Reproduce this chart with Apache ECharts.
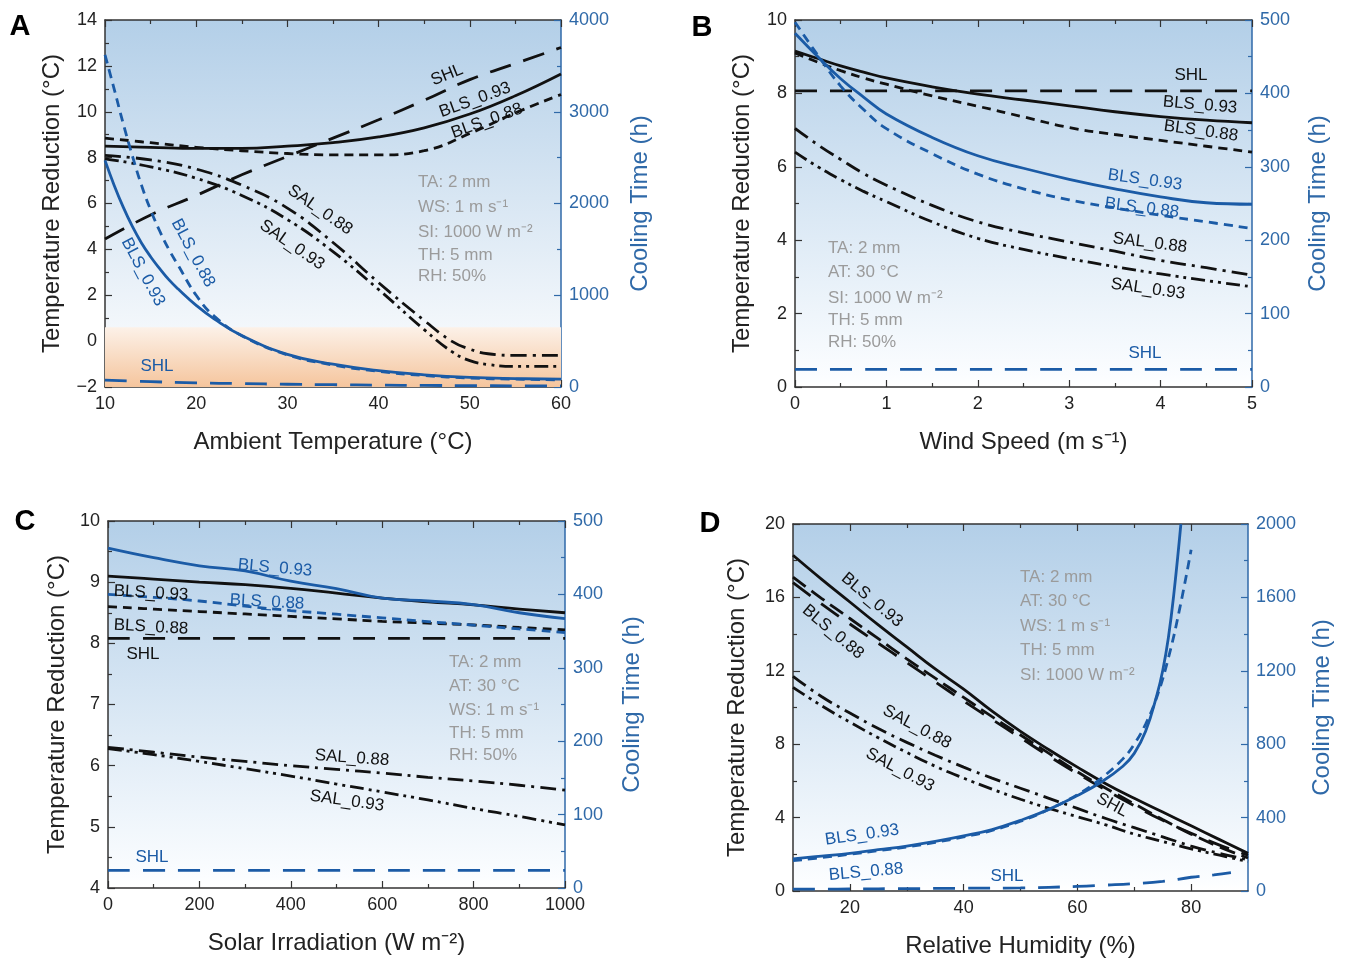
<!DOCTYPE html>
<html><head><meta charset="utf-8">
<script src="https://cdn.jsdelivr.net/npm/echarts@6/dist/echarts.min.js"></script>
<style>html,body{margin:0;padding:0;background:#fff}#c{width:1346px;height:961px}</style>
</head><body><div id="c"></div>
<script>
// ---------- Panel A: Ambient Temperature ----------
const xA = [10,15,20,25,30,35,40,45,50,55,60];
const xA_sal = [10,15,20,25,30,35,40,45,48,50,52,55,60];
const xA_blue = [10,11,12,13,14,15,16,17,18,20,22,25,30,35,40,45,50,55,60];
const A_BLS93 = [8.5,8.45,8.4,8.4,8.5,8.65,8.9,9.3,9.9,10.7,11.65];
const A_BLS88 = [8.85,8.65,8.45,8.3,8.18,8.12,8.12,8.3,9.05,9.95,10.75];
const A_SHL = [4.45,5.5,6.35,7.25,8.05,8.85,9.65,10.5,11.4,12.1,12.8];
const A_SAL88 = [8.1,7.9,7.5,6.8,5.8,4.3,2.55,0.9,0.0,-0.35,-0.55,-0.62,-0.62];
const A_SAL93 = [7.95,7.6,7.1,6.35,5.3,3.9,2.25,0.5,-0.45,-0.85,-1.02,-1.1,-1.1];
const A_BLS88_T = [3620,3250,2870,2520,2200,1930,1700,1500,1330,1000,770,560,350,240,170,125,98,85,78];
const A_BLS93_T = [2470,2200,1960,1750,1570,1420,1290,1170,1070,890,740,560,355,248,178,133,105,92,85];
const A_SHL_T = [75,58,45,37,30,25,20,17,15,13,12];

// ---------- Panel B: Wind Speed ----------
const xB = [0,0.25,0.5,0.75,1,1.5,2,2.5,3,3.5,4,4.5,5];
const B_BLS93 = [9.15,8.95,8.75,8.58,8.42,8.18,7.98,7.82,7.66,7.5,7.37,7.27,7.2];
const B_BLS88 = [9.1,8.85,8.62,8.42,8.25,7.93,7.65,7.36,7.07,6.88,6.72,6.56,6.4];
const B_SHL = [8.07,8.07,8.07,8.07,8.07,8.07,8.07,8.07,8.07,8.07,8.07,8.07,8.07];
const B_SAL88 = [7.05,6.6,6.2,5.82,5.5,4.95,4.5,4.2,3.95,3.7,3.45,3.25,3.05];
const B_SAL93 = [6.4,6.0,5.65,5.33,5.05,4.5,4.05,3.75,3.5,3.28,3.08,2.9,2.73];
const B_BLS93_T = [482,450,420,395,372,340,315,298,283,270,259,251,249];
const B_BLS88_T = [497,452,410,378,352,318,290,270,255,244,234,225,216];
const B_SHL_T = [24,24,24,24,24,24,24,24,24,24,24,24,24];

// ---------- Panel C: Solar Irradiation ----------
const xC = [0,100,200,300,400,500,600,700,800,900,1000];
const C_BLS93 = [9.1,9.05,9.0,8.96,8.9,8.82,8.74,8.68,8.63,8.56,8.5];
const C_BLS88 = [8.6,8.56,8.52,8.48,8.44,8.4,8.36,8.33,8.3,8.26,8.22];
const C_SHL = [8.08,8.08,8.08,8.08,8.08,8.08,8.08,8.08,8.08,8.08,8.08];
const C_SAL88 = [6.3,6.22,6.14,6.07,6.0,5.94,5.88,5.81,5.75,5.68,5.6];
const C_SAL93 = [6.28,6.18,6.07,5.95,5.83,5.7,5.57,5.44,5.3,5.17,5.03];
const C_BLS93_T = [463,450,439,432,418,408,395,391,386,375,367];
const C_BLS88_T = [400,396,391,384,378,373,368,363,358,353,348];
const C_SHL_T = [24,24,24,24,24,24,24,24,24,24,24];

// ---------- Panel D: Relative Humidity ----------
const xD = [10,15,20,25,30,35,40,45,50,55,60,65,70,75,80,85,90];
const D_BLS93 = [18.3,17.0,15.75,14.5,13.3,12.1,11.0,9.8,8.7,7.7,6.75,5.85,5.05,4.3,3.55,2.8,2.05];
const D_BLS88 = [17.1,15.95,14.85,13.75,12.65,11.6,10.55,9.5,8.5,7.5,6.5,5.6,4.75,3.9,3.1,2.4,1.8];
const D_SHL = [16.8,15.65,14.55,13.5,12.45,11.4,10.35,9.35,8.35,7.35,6.4,5.5,4.65,3.85,3.15,2.5,1.95];
const D_SAL88 = [11.7,10.6,9.7,8.85,8.1,7.4,6.75,6.15,5.6,5.05,4.5,3.95,3.45,2.95,2.45,2.05,1.7];
const D_SAL93 = [11.1,10.1,9.2,8.35,7.55,6.8,6.15,5.55,5.0,4.5,4.05,3.6,3.1,2.7,2.3,1.95,1.6];
const xD_b93 = [10,15,20,25,30,35,40,45,50,55,60,64,68,70,72,74,75,76,77,78.2];
const D_BLS93_T = [175,190,205,225,245,270,300,335,385,445,520,590,680,750,870,1070,1200,1380,1630,2000];
const xD_b88 = [10,15,20,25,30,35,40,45,50,55,60,64,68,70,72,74,76,78,80];
const D_BLS88_T = [165,182,200,220,240,265,295,330,380,445,525,610,720,800,910,1060,1270,1540,1860];
const xD_shl = [10,20,30,40,50,60,65,70,75,80,84,87];
const D_SHL_T = [10,11,13,15,17,25,32,40,52,75,88,100];

// ---------- styling ----------
const FONT = '"Liberation Sans", Arial, Helvetica, sans-serif';
const BLACK = '#111111';
const BLUE = '#1b5ba6';
const AXBLUE = '#2f69a8';
const DASH = {
  solid: 'solid',
  short: [9, 6],
  long: [22, 13],
  dashdot: [16, 6, 3, 6],
  dashdotdot: [14, 5, 3, 5, 3, 5]
};

const chart = echarts.init(document.getElementById('c'), null, {renderer: 'canvas'});

function bgGrad(stopEnd) {
  return new echarts.graphic.LinearGradient(0, 0, 0, 1, [
    {offset: 0, color: '#b3cfe8'},
    {offset: stopEnd, color: '#fbfdff'},
    {offset: 1, color: '#ffffff'}
  ]);
}

const grids = [
  {left: 105, top: 20, width: 456, height: 367, show: true, borderWidth: 0, backgroundColor: new echarts.graphic.LinearGradient(0,0,0,1,[{offset:0,color:'#b3cfe8'},{offset:0.84,color:'#f3f7fb'},{offset:1,color:'#ffffff'}])},
  {left: 795, top: 20, width: 457, height: 367, show: true, borderWidth: 0, backgroundColor: bgGrad(0.97)},
  {left: 108, top: 521, width: 457, height: 367, show: true, borderWidth: 0, backgroundColor: bgGrad(0.97)},
  {left: 793, top: 524, width: 455, height: 367, show: true, borderWidth: 0, backgroundColor: bgGrad(0.97)}
];

const NAMESIZE = 24;
const lblStyle = {fontSize: 18, color: '#222', fontFamily: FONT, formatter: v => String(v).replace('-', '\u2212')};
function xAxes(g, min, max, interval, name, custom) {
  const common = {
    type: 'value', gridIndex: g, min, max, interval,
    axisLine: {show: true, onZero: false, lineStyle: {color: '#333', width: 1.5}},
    axisTick: {show: true, inside: true, length: 7, lineStyle: {color: '#333', width: 1.2}},
    minorTick: {show: true, splitNumber: 2, length: 4, lineStyle: {color: '#333', width: 1.2}},
    splitLine: {show: false}
  };
  const bottom = Object.assign({}, common, {
    position: 'bottom', name, nameLocation: 'middle', nameGap: 43,
    nameTextStyle: {fontSize: NAMESIZE, color: '#222', fontFamily: FONT},
    axisLabel: Object.assign({margin: 8}, lblStyle, custom ? {customValues: custom} : {})
  });
  const top = Object.assign({}, common, {position: 'top', axisLabel: {show: false}});
  if (custom) {
    bottom.axisTick = Object.assign({}, common.axisTick, {customValues: custom});
    top.axisTick = Object.assign({}, common.axisTick, {customValues: custom});
    bottom.minorTick = {show: false};
    top.minorTick = {show: false};
  }
  return [bottom, top];
}
function yAxes(g, lmin, lmax, lint, rmin, rmax, rint, lgap, rgap) {
  const left = {
    type: 'value', gridIndex: g, position: 'left', min: lmin, max: lmax, interval: lint,
    name: 'Temperature Reduction (°C)', nameLocation: 'middle', nameGap: lgap,
    nameTextStyle: {fontSize: NAMESIZE, color: '#222', fontFamily: FONT},
    axisLine: {show: true, onZero: false, lineStyle: {color: '#333', width: 1.5}},
    axisTick: {show: true, inside: true, length: 7, lineStyle: {color: '#333', width: 1.2}},
    minorTick: {show: true, splitNumber: 2, length: 4, lineStyle: {color: '#333', width: 1.2}},
    axisLabel: Object.assign({margin: 8}, lblStyle),
    splitLine: {show: false}
  };
  const right = {
    type: 'value', gridIndex: g, position: 'right', min: rmin, max: rmax, interval: rint,
    name: 'Cooling Time (h)', nameLocation: 'middle', nameGap: rgap,
    nameTextStyle: {fontSize: NAMESIZE, color: AXBLUE, fontFamily: FONT},
    axisLine: {show: true, onZero: false, lineStyle: {color: AXBLUE, width: 1.5}},
    axisTick: {show: true, inside: true, length: 7, lineStyle: {color: AXBLUE, width: 1.2}},
    minorTick: {show: true, splitNumber: 2, length: 4, lineStyle: {color: AXBLUE, width: 1.2}},
    axisLabel: {margin: 8, fontSize: 18, color: AXBLUE, fontFamily: FONT, formatter: v => String(v)},
    splitLine: {show: false}
  };
  return [left, right];
}

const xAxisList = [].concat(
  xAxes(0, 10, 60, 10, 'Ambient Temperature (°C)'),
  xAxes(1, 0, 5, 1, 'Wind Speed (m s\u207B\u00B9)'),
  xAxes(2, 0, 1000, 200, 'Solar Irradiation (W m\u207B\u00B2)'),
  xAxes(3, 10, 90, 10, 'Relative Humidity (%)', [20, 40, 60, 80])
);
// minor ticks for panel D (odd tens)
['bottom', 'top'].forEach(pos => xAxisList.push({
  type: 'value', gridIndex: 3, position: pos, min: 10, max: 90, interval: 10,
  axisLine: {show: false, onZero: false}, axisLabel: {show: false}, splitLine: {show: false},
  axisTick: {show: true, inside: true, length: 4, customValues: [30, 50, 70], lineStyle: {color: '#333', width: 1.2}}
}));

const yAxisList = [].concat(
  yAxes(0, -2, 14, 2, 0, 4000, 1000, 41, 67),
  yAxes(1, 0, 10, 2, 0, 500, 100, 41, 54),
  yAxes(2, 4, 10, 1, 0, 500, 100, 39, 55),
  yAxes(3, 0, 20, 4, 0, 2000, 400, 44, 62)
);

function line(p, right, xs, ys, color, dash, extra) {
  return Object.assign({
    type: 'line', xAxisIndex: 2 * p, yAxisIndex: 2 * p + right,
    data: xs.map((x, i) => [x, ys[i]]),
    showSymbol: false, symbol: 'none', smooth: 0.45,
    lineStyle: {color, width: 2.8, type: dash, cap: 'butt'},
    silent: true, animation: false, z: 3
  }, extra || {});
}

const series = [
  // Panel A
  line(0, 0, xA, A_SHL, BLACK, DASH.long, {
    markArea: {
      silent: true,
      itemStyle: {color: new echarts.graphic.LinearGradient(0, 0, 0, 1, [
        {offset: 0, color: '#fcf1e8'}, {offset: 1, color: '#f5c59d'}])},
      data: [[{yAxis: -2}, {yAxis: 0.6}]]
    }
  }),
  line(0, 0, xA, A_BLS93, BLACK, DASH.solid),
  line(0, 0, xA, A_BLS88, BLACK, DASH.short),
  line(0, 0, xA_sal, A_SAL88, BLACK, DASH.dashdot),
  line(0, 0, xA_sal, A_SAL93, BLACK, DASH.dashdotdot),
  line(0, 1, xA_blue, A_BLS93_T, BLUE, DASH.solid),
  line(0, 1, xA_blue, A_BLS88_T, BLUE, DASH.short),
  line(0, 1, xA, A_SHL_T, BLUE, DASH.long),
  // Panel B
  line(1, 0, xB, B_SHL, BLACK, DASH.long),
  line(1, 0, xB, B_BLS93, BLACK, DASH.solid),
  line(1, 0, xB, B_BLS88, BLACK, DASH.short),
  line(1, 0, xB, B_SAL88, BLACK, DASH.dashdot),
  line(1, 0, xB, B_SAL93, BLACK, DASH.dashdotdot),
  line(1, 1, xB, B_BLS93_T, BLUE, DASH.solid),
  line(1, 1, xB, B_BLS88_T, BLUE, DASH.short),
  line(1, 1, xB, B_SHL_T, BLUE, DASH.long),
  // Panel C
  line(2, 0, xC, C_SHL, BLACK, DASH.long),
  line(2, 0, xC, C_BLS93, BLACK, DASH.solid),
  line(2, 0, xC, C_BLS88, BLACK, DASH.short),
  line(2, 0, xC, C_SAL88, BLACK, DASH.dashdot),
  line(2, 0, xC, C_SAL93, BLACK, DASH.dashdotdot),
  line(2, 1, xC, C_BLS93_T, BLUE, DASH.solid),
  line(2, 1, xC, C_BLS88_T, BLUE, DASH.short),
  line(2, 1, xC, C_SHL_T, BLUE, DASH.long),
  // Panel D
  line(3, 0, xD, D_SHL, BLACK, DASH.long),
  line(3, 0, xD, D_BLS93, BLACK, DASH.solid),
  line(3, 0, xD, D_BLS88, BLACK, [16, 7]),
  line(3, 0, xD, D_SAL88, BLACK, DASH.dashdot),
  line(3, 0, xD, D_SAL93, BLACK, DASH.dashdotdot),
  line(3, 1, xD_b93, D_BLS93_T, BLUE, DASH.solid),
  line(3, 1, xD_b88, D_BLS88_T, BLUE, DASH.short),
  line(3, 1, xD_shl, D_SHL_T, BLUE, DASH.long)
];

// ---------- annotations ----------
const DEG = Math.PI / 180;
function tag(text, x, y, rotDeg, color) {
  return {type: 'text', x, y, rotation: (rotDeg || 0) * DEG, silent: true, z: 10,
    style: {text, x: 0, y: 0, align: 'center', verticalAlign: 'middle', textAlign: 'center', textVerticalAlign: 'middle',
      font: '17px ' + FONT, fill: color || BLACK}};
}
function info(lines, x, ys) {
  return lines.map((t, i) => ({type: 'text', x, y: ys[i], silent: true, z: 10,
    style: {text: t, x: 0, y: 0, align: 'left', verticalAlign: 'middle', textAlign: 'left', textVerticalAlign: 'middle',
      font: '17px ' + FONT, fill: '#9b9b9b'}}));
}
function letter(t, x, y) {
  return {type: 'text', x, y, silent: true, z: 10,
    style: {text: t, x: 0, y: 0, align: 'center', verticalAlign: 'middle', textAlign: 'center', textVerticalAlign: 'middle',
      font: 'bold 29px ' + FONT, fill: '#000'}};
}

const graphics = [
  letter('A', 20, 27), letter('B', 702, 28), letter('C', 25, 522), letter('D', 710, 524),
  // A
  tag('SHL', 447, 75, 22), tag('BLS_0.93', 475, 100, 20), tag('BLS_0.88', 487, 121, 20),
  tag('SAL_0.88', 320, 210, -35), tag('SAL_0.93', 292, 245, -35),
  tag('BLS_0.88', 193, 253, -62, BLUE), tag('BLS_0.93', 143, 272, -62, BLUE), tag('SHL', 157, 366, 0, BLUE),
  // B
  tag('SHL', 1191, 75, 0), tag('BLS_0.93', 1200, 105, -5), tag('BLS_0.88', 1201, 131, -8),
  tag('BLS_0.93', 1145, 180, -8, BLUE), tag('BLS_0.88', 1142, 208, -7, BLUE),
  tag('SAL_0.88', 1150, 243, -7), tag('SAL_0.93', 1148, 289, -8), tag('SHL', 1145, 353, 0, BLUE),
  // C
  tag('BLS_0.93', 275, 568, -5, BLUE), tag('BLS_0.93', 151, 593, -3), tag('BLS_0.88', 267, 602, -3, BLUE),
  tag('BLS_0.88', 151, 627, -3), tag('SHL', 143, 654, 0), tag('SAL_0.88', 352, 758, -4),
  tag('SAL_0.93', 347, 801, -8), tag('SHL', 152, 857, 0, BLUE),
  // D
  tag('BLS_0.93', 872, 600, -40), tag('BLS_0.88', 833, 632, -40), tag('SAL_0.88', 917, 727, -28),
  tag('SAL_0.93', 900, 770, -28), tag('SHL', 1112, 805, -28),
  tag('BLS_0.93', 862, 835, 8, BLUE), tag('BLS_0.88', 866, 872, 5, BLUE), tag('SHL', 1007, 876, 0, BLUE)
].concat(
  info(['TA: 2 mm', 'WS: 1 m s\u207B\u00B9', 'SI: 1000 W m\u207B\u00B2', 'TH: 5 mm', 'RH: 50%'], 418, [182, 207, 232, 255, 276]),
  info(['TA: 2 mm', 'AT: 30 °C', 'SI: 1000 W m\u207B\u00B2', 'TH: 5 mm', 'RH: 50%'], 828, [248, 272, 298, 320, 342]),
  info(['TA: 2 mm', 'AT: 30 °C', 'WS: 1 m s\u207B\u00B9', 'TH: 5 mm', 'RH: 50%'], 449, [662, 686, 710, 733, 755]),
  info(['TA: 2 mm', 'AT: 30 °C', 'WS: 1 m s\u207B\u00B9', 'TH: 5 mm', 'SI: 1000 W m\u207B\u00B2'], 1020, [577, 601, 626, 650, 675])
);

chart.setOption({
  animation: false,
  backgroundColor: '#ffffff',
  textStyle: {fontFamily: FONT},
  grid: grids,
  xAxis: xAxisList,
  yAxis: yAxisList,
  series,
  graphic: graphics
});
</script>
</body></html>
